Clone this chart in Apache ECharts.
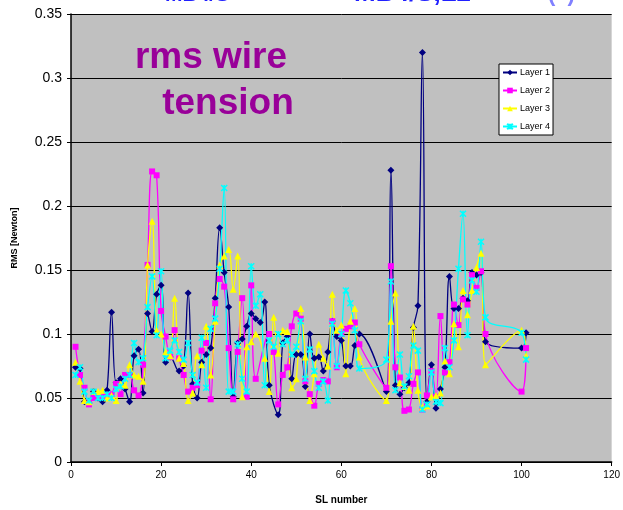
<!DOCTYPE html>
<html>
<head>
<meta charset="utf-8">
<script src="https://cdn.jsdelivr.net/npm/echarts@6/dist/echarts.min.js"></script>
<style>
html,body{margin:0;padding:0;background:#fff;}
#chart{width:623px;height:510px;}
</style>
</head>
<body>
<div id="chart"></div>
<script>
// SL numbers (x values)
const slNumbers = [1,2,3,4,5,6,7,8,9,10,11,12,13,14,15,16,17,18,19,20,21,22,23,24,25,26,27,28,29,30,
  31,32,33,34,35,36,37,38,39,40,41,42,43,44,45,46,47,48,49,50,51,52,53,54,55,56,57,58,59,60,61,62,63,64,
  70,71,72,73,74,75,76,77,78,79,80,81,82,83,84,85,86,87,88,89,90,91,92,100,101];

const layer1 = [0.074,0.073,0.047,0.046,0.055,0.050,0.047,0.056,0.117,0.062,0.065,0.057,0.047,0.083,0.088,0.054,0.116,0.102,0.131,0.138,
  0.078,0.082,null,0.071,0.075,0.132,0.061,0.050,0.078,0.084,0.089,0.128,0.183,0.148,0.121,0.051,0.093,0.096,0.106,0.116,
  0.112,0.109,0.125,0.060,null,0.037,0.093,0.098,0.065,0.084,0.084,0.059,0.100,0.081,0.082,0.071,0.086,0.110,0.098,0.095,
  0.075,0.075,0.091,0.100,
  0.055,0.228,0.060,0.053,0.058,0.062,0.105,0.122,0.320,0.047,0.076,0.042,0.057,0.074,0.145,0.120,0.120,0.128,0.126,0.148,
  0.146,0.148,0.094,0.089,0.101];

const layer2 = [0.090,0.068,0.058,0.045,0.050,0.051,0.051,0.052,0.053,0.061,0.053,0.068,0.068,0.056,0.052,0.076,0.154,0.227,0.224,0.118,
  0.098,0.082,0.103,0.081,0.068,0.055,0.058,0.060,0.087,0.093,0.049,0.124,0.143,0.137,0.089,0.049,0.086,0.128,0.051,0.138,
  0.065,null,null,0.100,0.086,0.045,0.068,0.074,0.106,0.116,0.112,0.063,0.053,0.044,0.061,0.064,0.063,0.110,0.074,0.100,
  0.104,0.106,0.109,0.092,
  0.058,0.153,0.074,0.066,0.040,0.041,0.061,0.070,0.041,0.052,0.071,0.051,0.114,0.070,0.078,0.123,0.107,0.127,0.123,0.146,
  0.136,0.149,0.100,0.055,0.089];

const layer3 = [0.078,0.063,0.048,0.047,0.055,0.055,0.056,0.050,0.052,0.048,0.061,0.060,0.076,0.068,0.067,0.063,0.154,0.188,0.103,0.100,
  0.086,0.083,0.128,0.081,0.077,0.048,0.054,0.083,0.076,0.106,0.068,0.110,0.154,0.161,0.166,0.135,0.161,0.051,0.090,0.094,
  0.100,null,0.081,0.055,0.113,0.085,0.103,0.102,0.058,0.065,0.120,0.082,0.048,0.069,0.092,0.081,0.075,0.131,0.103,0.107,
  0.069,0.110,0.120,0.082,
  0.048,0.110,0.132,0.062,0.059,0.056,0.106,0.056,0.043,0.044,0.051,0.052,0.054,0.079,0.069,0.108,0.090,0.134,0.115,0.134,
  0.152,0.163,0.076,0.103,0.083];

const layer4 = [0.068,0.074,0.055,0.048,0.055,0.050,0.050,0.053,0.050,0.057,0.059,0.065,0.068,0.093,0.078,0.081,0.121,0.145,0.099,0.149,
  0.081,0.087,0.095,0.086,0.080,0.093,0.068,0.062,0.097,0.058,0.104,0.112,0.151,0.214,0.055,0.055,0.092,0.065,0.055,0.153,
  0.122,0.131,0.060,0.095,0.090,0.100,0.092,0.095,0.084,0.090,0.110,0.065,0.088,0.071,0.058,0.063,0.048,0.108,0.075,0.100,
  0.134,0.124,0.103,0.073,
  0.080,0.141,0.056,0.084,0.059,0.067,0.091,0.087,0.041,0.045,0.070,0.047,0.046,0.089,0.074,0.095,0.151,0.194,0.099,0.142,
  0.133,0.172,0.113,0.101,0.080];

const seriesNames = ['Layer 1','Layer 2','Layer 3','Layer 4'];
const seriesColors = ['#000080','#ff00ff','#ffff00','#00ffff'];

function pairs(vals){ return slNumbers.map((x,i)=>[x, vals[i]]); }

const symbols = ['diamond','rect','triangle','path://M0,0L10,10M10,0L0,10M5,0L5,10'];
const symbolSizes = [7,6,7,6];
const allVals = [layer1, layer2, layer3, layer4];

const chart = echarts.init(document.getElementById('chart'), null, {renderer:'canvas'});
const option = {
  animation:false,
  backgroundColor:'#ffffff',
  grid:{left:71, right:10, top:14, bottom:46, show:true, backgroundColor:'#c0c0c0', borderWidth:0},
  legend:{
    orient:'vertical', left:499, top:64,
    data:seriesNames,
    itemWidth:14, itemHeight:7, itemGap:9,
    padding:[4,3,4,3],
    backgroundColor:'#ffffff', borderColor:'#000000', borderWidth:1,
    textStyle:{fontFamily:'Liberation Sans, Arial', fontSize:9, color:'#000', padding:[0,0,0,-2]}
  },
  xAxis:{
    type:'value', min:0, max:120, interval:20,
    name:'SL number', nameLocation:'middle', nameGap:33,
    nameTextStyle:{fontFamily:'Liberation Sans, Arial', fontWeight:'bold', fontSize:10, color:'#000'},
    axisLine:{onZero:false, lineStyle:{color:'#000', width:1.5}},
    axisTick:{show:true, length:4, lineStyle:{color:'#000'}},
    axisLabel:{fontFamily:'Liberation Sans, Arial', fontSize:10, color:'#000', margin:8},
    splitLine:{show:false}
  },
  yAxis:{
    type:'value', min:0, max:0.35, interval:0.05,
    name:'RMS [Newton]', nameLocation:'middle', nameGap:52, nameRotate:90,
    nameTextStyle:{fontFamily:'Liberation Sans, Arial', fontWeight:'bold', fontSize:9, color:'#000'},
    axisLine:{show:true, lineStyle:{color:'#000', width:1.5}},
    axisTick:{show:true, length:4, lineStyle:{color:'#000'}},
    axisLabel:{fontFamily:'Liberation Sans, Arial', fontSize:14, color:'#000', margin:9},
    splitLine:{show:true, lineStyle:{color:'#000', width:1}}
  },
  graphic:[
    {type:'text', x:165, y:-15, style:{text:'MB4/S', fill:'#2020ff', font:'bold 21px Liberation Sans, Arial'}},
    {type:'text', x:354, y:-19, style:{text:'MB4/S,L2', fill:'#2020ff', font:'bold 26px Liberation Sans, Arial'}},
    {type:'text', x:548, y:-16, style:{text:'(  )', fill:'#8080ff', font:'bold 22px Liberation Sans, Arial'}},
    {type:'text', x:211, y:58, z:10, style:{text:'rms wire', fill:'#990099', font:'bold 37px Liberation Sans, Arial', align:'center', verticalAlign:'middle'}},
    {type:'text', x:228, y:104, z:10, style:{text:'tension', fill:'#990099', font:'bold 37px Liberation Sans, Arial', align:'center', verticalAlign:'middle'}}
  ],
  series: seriesNames.map((name,i)=>({
    name:name, type:'line', data:pairs(allVals[i]),
    smooth:0.4, connectNulls:true,
    symbol:symbols[i], symbolSize:symbolSizes[i], showAllSymbol:true,
    lineStyle:{color:seriesColors[i], width:1.3},
    itemStyle:{color:seriesColors[i], borderColor:seriesColors[i], borderWidth: i===3 ? 1.5 : 0},
    emphasis:{disabled:true}
  }))
};
chart.setOption(option);
</script>
</body>
</html>
